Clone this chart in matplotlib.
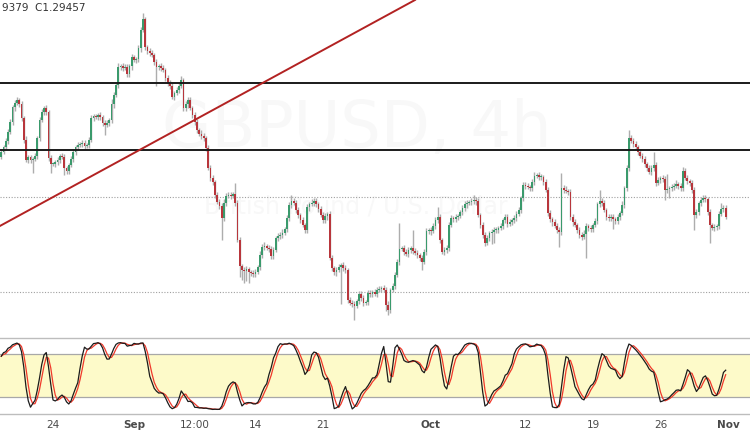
import matplotlib
matplotlib.use('Agg')
import matplotlib.pyplot as plt
import numpy as np
import pandas as pd

# GBPUSD 4h closes, in pips (price * 10000)
close_pips = [
    13118, 13131, 13147, 13171, 13197, 13237, 13248, 13256, 13245, 13208,
    13150, 13096, 13104, 13096, 13099, 13107, 13155, 13203, 13224, 13235,
    13224, 13102, 13086, 13086, 13091, 13096, 13107, 13104, 13075, 13067,
    13083, 13099, 13118, 13131, 13136, 13139, 13142, 13134, 13136, 13150,
    13208, 13213, 13211, 13216, 13211, 13195, 13189, 13195, 13203, 13245,
    13269, 13296, 13344, 13346, 13341, 13344, 13325, 13346, 13370, 13362,
    13365, 13394, 13442, 13471, 13397, 13386, 13381, 13376, 13357, 13344,
    13346, 13341, 13336, 13314, 13301, 13293, 13264, 13275, 13283, 13293,
    13309, 13235, 13245, 13256, 13235, 13216, 13197, 13176, 13166, 13160,
    13155, 13128, 13075, 13048, 13038, 13003, 12985, 12974, 12942, 12982,
    13001, 13003, 13001, 13006, 12982, 12884, 12814, 12804, 12801, 12806,
    12798, 12796, 12793, 12798, 12812, 12844, 12865, 12868, 12862, 12860,
    12841, 12857, 12889, 12894, 12897, 12902, 12913, 12942, 12977, 12987,
    12982, 12963, 12950, 12937, 12923, 12910, 12971, 12979, 12982, 12987,
    12979, 12966, 12950, 12937, 12947, 12953, 12836, 12809, 12798, 12804,
    12812, 12817, 12809, 12804, 12724, 12716, 12713, 12708, 12721, 12740,
    12729, 12716, 12719, 12743, 12740, 12745, 12740, 12751, 12753, 12756,
    12751, 12711, 12697, 12751, 12761, 12790, 12825, 12860, 12862, 12852,
    12846, 12857, 12862, 12854, 12849, 12844, 12836, 12825, 12852, 12907,
    12910, 12907, 12921, 12937, 12945, 12884, 12852, 12857, 12862, 12923,
    12942, 12939, 12945, 12947, 12958, 12969, 12979, 12982, 12985, 12987,
    12990, 12987, 12950, 12923, 12897, 12876, 12889, 12902, 12905, 12910,
    12910, 12915, 12921, 12937, 12945, 12926, 12931, 12937, 12942, 12953,
    12963, 12995, 13030, 13027, 13025, 13022, 13038, 13054, 13056, 13051,
    13051, 13038, 13017, 12955, 12939, 12931, 12921, 12910, 12905, 13022,
    13017, 13014, 13011, 12945, 12931, 12923, 12910, 12897, 12892, 12900,
    12921, 12915, 12913, 12923, 12934, 12979, 12987, 12982, 12963, 12945,
    12942, 12945, 12939, 12934, 12945, 12955, 12977, 13022, 13075, 13155,
    13147, 13139, 13131, 13118, 13107, 13099, 13086, 13075, 13064, 13075,
    13083, 13035, 13043, 13048, 13046, 13017, 13019, 13022, 13025, 13027,
    13033, 13027, 13022, 13067, 13048, 13040, 13035, 13017, 12950, 12958,
    12982, 12990, 12995, 12993, 12958, 12923, 12915, 12918, 12921, 12953,
    12966, 12969, 12946,
]
first_open = 13105

# wick lengths beyond the body, pips
wick_up = [
    6, 5, 8, 7, 9, 6, 8, 8, 5, 7, 6, 9, 5, 7, 6, 8, 6, 9, 7, 6,
    8, 5, 7, 6, 5, 8, 6, 7, 9, 5, 6, 8, 7, 5, 9, 6, 7, 8, 6, 7,
    9, 6, 7, 5, 8, 6, 7, 9, 6, 14, 8, 7, 10, 6, 8, 7, 9, 6, 8, 7,
    6, 9, 8, 16, 7, 6, 8, 7, 5, 9, 6, 8, 7, 6, 8, 7, 9, 6, 8, 10,
    12, 6, 8, 7, 9, 6, 7, 8, 6, 9, 7, 6, 8, 7, 9, 6, 8, 7, 9, 10,
    8, 7, 9, 6, 30, 8, 7, 6, 9, 8, 6, 7, 9, 8, 6, 10, 7, 9, 6, 8,
    7, 9, 6, 8, 7, 10, 6, 9, 8, 15, 9, 7, 8, 6, 9, 7, 8, 6, 10, 7,
    9, 6, 8, 7, 9, 6, 8, 7, 6, 9, 7, 6, 8, 7, 6, 9, 8, 7, 6, 8,
    7, 9, 6, 8, 7, 6, 9, 8, 7, 6, 8, 7, 10, 6, 9, 8, 7, 69, 6, 9,
    7, 8, 6, 48, 7, 9, 6, 8, 7, 9, 6, 8, 7, 9, 27, 8, 6, 9, 7, 8,
    9, 6, 8, 7, 6, 9, 7, 8, 6, 9, 13, 7, 8, 6, 9, 7, 8, 6, 9, 7,
    8, 7, 9, 6, 8, 7, 9, 6, 8, 7, 9, 6, 8, 7, 9, 6, 8, 10, 7, 9,
    8, 6, 9, 7, 8, 6, 9, 7, 8, 40, 7, 9, 6, 8, 7, 9, 6, 8, 7, 9,
    8, 6, 9, 7, 8, 6, 29, 7, 9, 6, 8, 7, 9, 6, 8, 7, 9, 6, 8, 21,
    8, 7, 9, 6, 8, 7, 9, 6, 8, 7, 35, 7, 9, 6, 8, 7, 40, 6, 8, 7,
    9, 6, 8, 10, 7, 9, 6, 8, 7, 9, 6, 8, 7, 9, 6, 8, 7, 9, 6, 8,
    15, 9, 7,
]
wick_dn = [
    7, 6, 5, 8, 6, 7, 9, 6, 8, 7, 9, 6, 8, 7, 35, 6, 7, 8, 6, 9,
    7, 8, 24, 6, 9, 7, 8, 6, 19, 8, 7, 6, 9, 7, 8, 6, 7, 9, 6, 8,
    7, 9, 6, 8, 7, 9, 27, 6, 8, 7, 9, 6, 8, 7, 9, 6, 8, 7, 9, 6,
    8, 7, 9, 6, 8, 7, 9, 6, 8, 50, 7, 9, 6, 8, 7, 9, 6, 8, 7, 9,
    6, 8, 7, 9, 6, 8, 7, 9, 6, 8, 7, 9, 6, 8, 7, 9, 6, 8, 58, 7,
    9, 6, 8, 7, 9, 6, 30, 28, 32, 26, 30, 8, 7, 9, 6, 8, 7, 9, 6, 8,
    7, 9, 6, 8, 7, 9, 6, 8, 7, 9, 6, 8, 7, 9, 6, 8, 7, 9, 6, 8,
    7, 9, 6, 8, 7, 9, 6, 8, 7, 9, 6, 100, 8, 7, 9, 6, 8, 37, 6, 8,
    7, 9, 6, 8, 7, 9, 6, 8, 7, 9, 6, 15, 13, 8, 7, 9, 6, 8, 7, 9,
    6, 8, 7, 9, 6, 8, 7, 20, 6, 8, 7, 9, 6, 8, 7, 9, 6, 8, 7, 9,
    6, 8, 7, 9, 6, 8, 7, 9, 6, 8, 7, 9, 6, 8, 7, 9, 6, 8, 30, 30,
    7, 9, 6, 8, 7, 9, 6, 8, 7, 9, 6, 8, 7, 9, 6, 8, 7, 9, 6, 8,
    7, 9, 6, 8, 7, 9, 6, 8, 40, 7, 9, 6, 8, 7, 9, 6, 8, 7, 9, 6,
    64, 8, 7, 9, 6, 8, 7, 9, 6, 8, 7, 9, 25, 8, 7, 9, 6, 8, 7, 9,
    6, 8, 7, 9, 6, 8, 7, 9, 6, 8, 7, 9, 6, 8, 7, 26, 8, 25, 7, 9,
    6, 8, 7, 9, 6, 8, 7, 9, 40, 8, 7, 9, 6, 8, 7, 48, 6, 8, 7, 9,
    6, 8, 7,
]

tick_pos = [23, 59, 86, 113, 143, 191, 233, 263, 293, 323]
tick_text = ['24', 'Sep', '12:00', '14', '21', 'Oct', '12', '19', '26', 'Nov']
month_ticks = ['Sep', 'Oct', 'Nov']

levels = [1.3301, 1.3123]
dotted_levels = [1.2998, 1.2745]
trend_a = (-0.56, 1.2921)
trend_b = (183.9, 1.3522)

close = np.array(close_pips) / 1e4
opn = np.concatenate([[first_open / 1e4], close[:-1]])
high = np.maximum(opn, close) + np.array(wick_up) / 1e4
low = np.minimum(opn, close) - np.array(wick_dn) / 1e4
idx = np.arange(len(close))

# stochastic 14,3,3
hh = pd.Series(high).rolling(14, min_periods=1).max()
ll = pd.Series(low).rolling(14, min_periods=1).min()
raw_k = 100 * (pd.Series(close) - ll) / (hh - ll)
k = raw_k.rolling(3, min_periods=1).mean()
d = k.rolling(3, min_periods=1).mean()

fig = plt.figure(figsize=(7.5, 4.3), dpi=100)
xlim = (-0.56, 332.8)

ax = fig.add_axes([0, 94 / 430, 1, 336 / 430])
ax.set_xlim(*xlim)
ax.set_ylim(1.26282, 1.3522)
ax.axis('off')

ax.text(0.475, 0.615, 'GBPUSD, 4h', transform=ax.transAxes, fontsize=46,
        color='#f8f8f8', ha='center', va='center', zorder=0)
ax.text(0.475, 0.385, 'British Pound / U.S. Dollar', transform=ax.transAxes,
        fontsize=17, color='#f8f8f8', ha='center', va='center', zorder=0)

ax.vlines(idx, low, high, color='#adadad', lw=1.0, zorder=2)
up = close >= opn
body = np.maximum(np.abs(close - opn), 0.00025)
bottom = np.minimum(opn, close)
ax.bar(idx[up], body[up], bottom=bottom[up], width=0.85, color='#3a9a6c',
       lw=0, zorder=3)
ax.bar(idx[~up], body[~up], bottom=bottom[~up], width=0.85, color='#b8363c',
       lw=0, zorder=3)

for lv in levels:
    ax.axhline(lv, color='#1a1a1a', lw=1.4, zorder=4)
for lv in dotted_levels:
    ax.axhline(lv, color='#a0a0a0', lw=0.8, ls=(0, (1, 1.5)), zorder=1)
ax.axline(trend_a, trend_b, color='#b22222', lw=1.4, zorder=4)

fig.text(0.002, 1 - 8 / 430, '9379  C1.29457', fontsize=7.5, color='#333333',
         va='center', ha='left')

ax2 = fig.add_axes([0, 16 / 430, 1, 76 / 430])
ax2.set_xlim(*xlim)
ax2.set_ylim(-3.8, 102.4)
ax2.axhspan(20, 80, color='#fdfac9', lw=0, zorder=0)
ax2.axhline(20, color='#a8a8a8', lw=0.9, zorder=1)
ax2.axhline(80, color='#a8a8a8', lw=0.9, zorder=1)
ax2.plot(idx, d, color='#f0392b', lw=0.9, zorder=2)
ax2.plot(idx, k, color='#1b1b1b', lw=0.9, zorder=3)
for s in ['left', 'right']:
    ax2.spines[s].set_visible(False)
for s in ['top', 'bottom']:
    ax2.spines[s].set_color('#bdbdbd')
    ax2.spines[s].set_linewidth(1.0)
ax2.set_yticks([])
ax2.set_xticks(tick_pos)
ax2.set_xticklabels(tick_text)
ax2.tick_params(axis='x', length=0, pad=4, labelsize=7.5, labelcolor='#4a4a4a')
for lab in ax2.get_xticklabels():
    if lab.get_text() in month_ticks:
        lab.set_fontweight('bold')

fig.savefig('out.png', dpi=100)
